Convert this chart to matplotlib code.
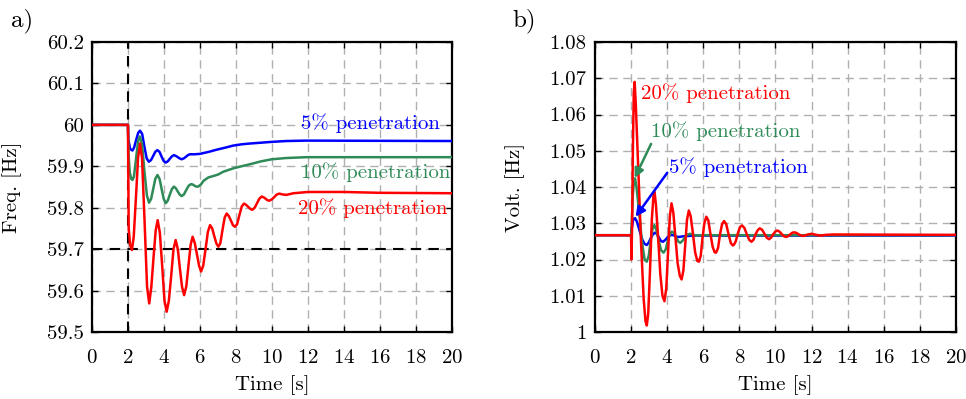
import matplotlib
matplotlib.use("Agg")
import matplotlib.pyplot as plt

plt.rcParams["font.family"] = "serif"
plt.rcParams["font.serif"] = ["cmr10"]
plt.rcParams["mathtext.fontset"] = "cm"
plt.rcParams["axes.formatter.use_mathtext"] = True

# frequency panel (a)
t_f20 = [0, 2.0, 2.04, 2.12, 2.22, 2.32, 2.45, 2.56, 2.67, 2.78, 2.92, 3.06, 3.18, 3.3, 3.42, 3.54,
         3.65, 3.77, 3.9, 4.03, 4.15, 4.27, 4.4, 4.53, 4.65, 4.77, 4.88, 5.0, 5.12, 5.24, 5.36,
         5.48, 5.59, 5.71, 5.83, 5.95, 6.06, 6.18, 6.31, 6.44, 6.56, 6.68, 6.79, 6.91, 7.02, 7.13,
         7.25, 7.37, 7.48, 7.6, 7.71, 7.83, 7.94, 8.06, 8.19, 8.32, 8.44, 8.56, 8.68, 8.8, 8.91,
         9.04, 9.17, 9.3, 9.43, 9.54, 9.64, 9.75, 9.85, 9.99, 10.13, 10.27, 10.41, 10.6, 10.8,
         11.2, 12.0, 14.0, 16.0, 20.0]
f20 = [60.0, 60.0, 59.75, 59.71, 59.698, 59.73, 59.83, 59.92, 59.955, 59.92, 59.77, 59.61, 59.569,
       59.61, 59.68, 59.745, 59.770, 59.74, 59.66, 59.575, 59.549, 59.575, 59.635, 59.70, 59.722,
       59.70, 59.655, 59.61, 59.589, 59.61, 59.66, 59.71, 59.730, 59.715, 59.688, 59.66, 59.646,
       59.66, 59.70, 59.742, 59.758, 59.75, 59.732, 59.714, 59.706, 59.714, 59.746, 59.776, 59.786,
       59.78, 59.77, 59.758, 59.754, 59.76, 59.782, 59.803, 59.810, 59.807, 59.802, 59.797, 59.795,
       59.80, 59.811, 59.822, 59.827, 59.825, 59.822, 59.818, 59.817, 59.82, 59.826, 59.832,
       59.834, 59.832, 59.831, 59.835, 59.838, 59.838, 59.836, 59.835]
t_f10 = [0, 2.0, 2.03, 2.1, 2.18, 2.25, 2.33, 2.44, 2.56, 2.66, 2.78, 2.91, 3.05, 3.17, 3.29, 3.4,
         3.52, 3.64, 3.76, 3.87, 3.99, 4.1, 4.21, 4.32, 4.44, 4.55, 4.66, 4.77, 4.87, 4.98, 5.11,
         5.24, 5.37, 5.5, 5.6, 5.7, 5.8, 5.9, 6.05, 6.2, 6.46, 6.7, 7.0, 7.3, 7.85, 8.3, 8.78, 9.4,
         10.0, 10.8, 11.9, 20.0]
f10 = [60.0, 60.0, 59.93, 59.885, 59.87, 59.867, 59.875, 59.915, 59.96, 59.972, 59.955, 59.89,
       59.83, 59.812, 59.822, 59.845, 59.87, 59.879, 59.869, 59.845, 59.821, 59.811, 59.817,
       59.831, 59.845, 59.851, 59.847, 59.839, 59.832, 59.828, 59.832, 59.843, 59.853, 59.857,
       59.856, 59.853, 59.851, 59.851, 59.856, 59.865, 59.873, 59.876, 59.88, 59.887, 59.895,
       59.90, 59.905, 59.912, 59.917, 59.92, 59.922, 59.922]
t_f5 = [0, 2.0, 2.02, 2.12, 2.25, 2.34, 2.45, 2.57, 2.67, 2.79, 2.91, 3.04, 3.16, 3.28, 3.4, 3.52,
        3.63, 3.75, 3.86, 3.98, 4.1, 4.21, 4.32, 4.44, 4.55, 4.66, 4.77, 4.87, 4.98, 5.1, 5.22,
        5.33, 5.44, 5.7, 6.0, 6.5, 6.92, 7.4, 7.85, 8.3, 8.78, 9.4, 10.0, 10.8, 11.9, 20.0]
f5 = [60.0, 60.0, 59.965, 59.942, 59.938, 59.945, 59.963, 59.981, 59.986, 59.978, 59.948, 59.919,
      59.911, 59.915, 59.925, 59.935, 59.939, 59.935, 59.924, 59.913, 59.909, 59.912, 59.918,
      59.924, 59.927, 59.925, 59.922, 59.919, 59.917, 59.919, 59.923, 59.927, 59.929, 59.929,
      59.930, 59.935, 59.940, 59.945, 59.950, 59.953, 59.955, 59.957, 59.959, 59.961, 59.962,
      59.961]

# voltage panel (b)
t_v20 = [0, 2.0, 2.02, 2.06, 2.1, 2.15, 2.2, 2.26, 2.4, 2.55, 2.7, 2.8, 2.87, 2.95, 3.05, 3.15,
         3.24, 3.3, 3.38, 3.5, 3.62, 3.74, 3.85, 3.95, 4.05, 4.15, 4.24, 4.34, 4.46, 4.58, 4.7,
         4.8, 4.9, 5.0, 5.1, 5.2, 5.3, 5.42, 5.55, 5.67, 5.76, 5.86, 5.96, 6.06, 6.17, 6.28, 6.4,
         6.52, 6.63, 6.71, 6.82, 6.93, 7.04, 7.15, 7.27, 7.4, 7.53, 7.63, 7.69, 7.8, 7.92, 8.04,
         8.15, 8.28, 8.41, 8.55, 8.67, 8.79, 8.9, 9.02, 9.13, 9.26, 9.39, 9.52, 9.65, 9.77, 9.88,
         9.99, 10.1, 10.22, 10.35, 10.48, 10.6, 10.72, 10.83, 10.94, 11.05, 11.18, 11.3, 11.43,
         11.55, 11.8, 12.0, 12.25, 12.5, 12.8, 13.2, 20.0]
v20 = [1.0267, 1.0267, 1.020, 1.030, 1.050, 1.066, 1.069, 1.063, 1.045, 1.025, 1.009, 1.003,
       1.0018, 1.005, 1.017, 1.031, 1.0375, 1.0387, 1.035, 1.026, 1.016, 1.010, 1.0085, 1.012,
       1.022, 1.032, 1.0355, 1.033, 1.026, 1.019, 1.0155, 1.0145, 1.017, 1.024, 1.031, 1.0335,
       1.032, 1.0275, 1.022, 1.0196, 1.0194, 1.021, 1.026, 1.030, 1.0318, 1.0308, 1.027, 1.0235,
       1.022, 1.0219, 1.0232, 1.027, 1.0297, 1.0306, 1.0298, 1.027, 1.0245, 1.0239, 1.0240,
       1.025, 1.0273, 1.029, 1.0294, 1.0287, 1.027, 1.0254, 1.0249, 1.0255, 1.027, 1.0281, 1.0286,
       1.0282, 1.0271, 1.026, 1.0256, 1.0261, 1.027, 1.0277, 1.028, 1.0277, 1.027, 1.0264, 1.0262,
       1.0265, 1.027, 1.0274, 1.0275, 1.0273, 1.0269, 1.0266, 1.0265, 1.0269, 1.0271, 1.0268,
       1.0266, 1.0268, 1.0269, 1.0268]
t_v10 = [0, 2.0, 2.04, 2.1, 2.16, 2.22, 2.3, 2.45, 2.6, 2.75, 2.87, 2.98, 3.08, 3.19, 3.29, 3.41,
         3.54, 3.67, 3.8, 3.92, 4.03, 4.15, 4.26, 4.38, 4.49, 4.61, 4.72, 4.86, 5.0, 5.14, 5.28,
         5.6, 6.0, 20.0]
v10 = [1.0267, 1.0267, 1.030, 1.038, 1.0415, 1.0424, 1.040, 1.033, 1.025, 1.020, 1.0194, 1.021,
       1.025, 1.0285, 1.0295, 1.028, 1.025, 1.0225, 1.0219, 1.0228, 1.025, 1.027, 1.0277, 1.0273,
       1.0262, 1.025, 1.0246, 1.0252, 1.0262, 1.0269, 1.0271, 1.0266, 1.0267, 1.0267]
t_v5 = [0, 2.0, 2.05, 2.12, 2.22, 2.32, 2.47, 2.62, 2.75, 2.87, 2.98, 3.1, 3.22, 3.33, 3.44, 3.55,
        3.66, 3.76, 3.9, 4.05, 4.2, 4.35, 4.6, 4.9, 5.5, 20.0]
v5 = [1.0267, 1.0267, 1.029, 1.031, 1.0314, 1.0305, 1.028, 1.0255, 1.0243, 1.0240, 1.0247, 1.026,
      1.027, 1.0274, 1.027, 1.026, 1.0251, 1.0249, 1.0254, 1.0263, 1.0268, 1.0267, 1.0262,
      1.0264, 1.0266, 1.0266]

f_ticks = [59.5, 59.6, 59.7, 59.8, 59.9, 60.0, 60.1, 60.2]
f_ticklabels = ["59.5", "59.6", "59.7", "59.8", "59.9", "60", "60.1", "60.2"]
v_ticks = [1.0, 1.01, 1.02, 1.03, 1.04, 1.05, 1.06, 1.07, 1.08]
v_ticklabels = ["1", "1.01", "1.02", "1.03", "1.04", "1.05", "1.06", "1.07", "1.08"]
t_ticks = list(range(0, 21, 2))

RED = "#ff0000"
GREEN = "#2e8b57"
BLUE = "#0000ff"
FS = 15
LW = 1.8


def style_axes(ax):
    ax.set_xlim(0, 20)
    ax.set_xticks(t_ticks)
    ax.grid(True, color="#b0b0b0", linestyle=(0, (6, 4)), linewidth=1.0)
    ax.tick_params(direction="in", top=True, right=True, length=4, width=1.0,
                   labelsize=FS, pad=6)
    ax.tick_params(axis="x", pad=12)
    for s in ax.spines.values():
        s.set_linewidth(1.6)
    ax.set_xlabel("Time [s]", fontsize=FS)
    ax.xaxis.set_label_coords(0.5, -0.148)


fig = plt.figure(figsize=(9.66, 3.99), dpi=100)
ax1 = fig.add_axes([0.0952, 0.1679, 0.3727, 0.7268])
ax2 = fig.add_axes([0.6159, 0.1679, 0.3737, 0.7268])

# panel a
style_axes(ax1)
ax1.set_ylim(59.5, 60.2)
ax1.set_yticks(f_ticks)
ax1.set_yticklabels(f_ticklabels)
ax1.axvline(2, color="black", linestyle=(0, (5, 3.5)), linewidth=1.5, zorder=2)
ax1.axhline(59.7, color="black", linestyle=(0, (5, 3.5)), linewidth=1.5, zorder=2)
ax1.plot(t_f5, f5, color=BLUE, linewidth=LW, zorder=3)
ax1.plot(t_f10, f10, color=GREEN, linewidth=LW, zorder=3)
ax1.plot(t_f20, f20, color=RED, linewidth=LW, zorder=4)
ax1.set_ylabel("Freq. [Hz]", fontsize=FS)
ax1.yaxis.set_label_coords(-0.194, 0.5)
ax1.text(19.35, 60.004, "5% penetration", color=BLUE, fontsize=FS, ha="right", va="center")
ax1.text(19.9, 59.887, "10% penetration", color=GREEN, fontsize=FS, ha="right", va="center")
ax1.text(19.75, 59.80, "20% penetration", color=RED, fontsize=FS, ha="right", va="center")

# panel b
style_axes(ax2)
ax2.set_ylim(1.0, 1.08)
ax2.set_yticks(v_ticks)
ax2.set_yticklabels(v_ticklabels)
ax2.plot(t_v5, v5, color=BLUE, linewidth=LW, zorder=3)
ax2.plot(t_v10, v10, color=GREEN, linewidth=LW, zorder=3)
ax2.plot(t_v20, v20, color=RED, linewidth=LW, zorder=4)
ax2.set_ylabel("Volt. [Hz]", fontsize=FS)
ax2.yaxis.set_label_coords(-0.194, 0.5)
ax2.text(2.55, 1.0658, "20% penetration", color=RED, fontsize=FS, ha="left", va="center")
ax2.text(3.08, 1.0553, "10% penetration", color=GREEN, fontsize=FS, ha="left", va="center")
ax2.text(4.08, 1.0456, "5% penetration", color=BLUE, fontsize=FS, ha="left", va="center")
ax2.annotate("", xy=(2.2, 1.0425), xytext=(3.11, 1.0519),
             arrowprops=dict(arrowstyle="-|>", color=GREEN, lw=1.8,
                             shrinkA=0, shrinkB=0, mutation_scale=14), zorder=5)
ax2.annotate("", xy=(2.25, 1.0318), xytext=(4.0, 1.0439),
             arrowprops=dict(arrowstyle="-|>", color=BLUE, lw=1.8,
                             shrinkA=0, shrinkB=0, mutation_scale=14), zorder=5)

fig.text(0.011, 0.948, "a)", fontsize=18, va="center", ha="left")
fig.text(0.53, 0.948, "b)", fontsize=18, va="center", ha="left")

fig.savefig("out.png", dpi=100)
